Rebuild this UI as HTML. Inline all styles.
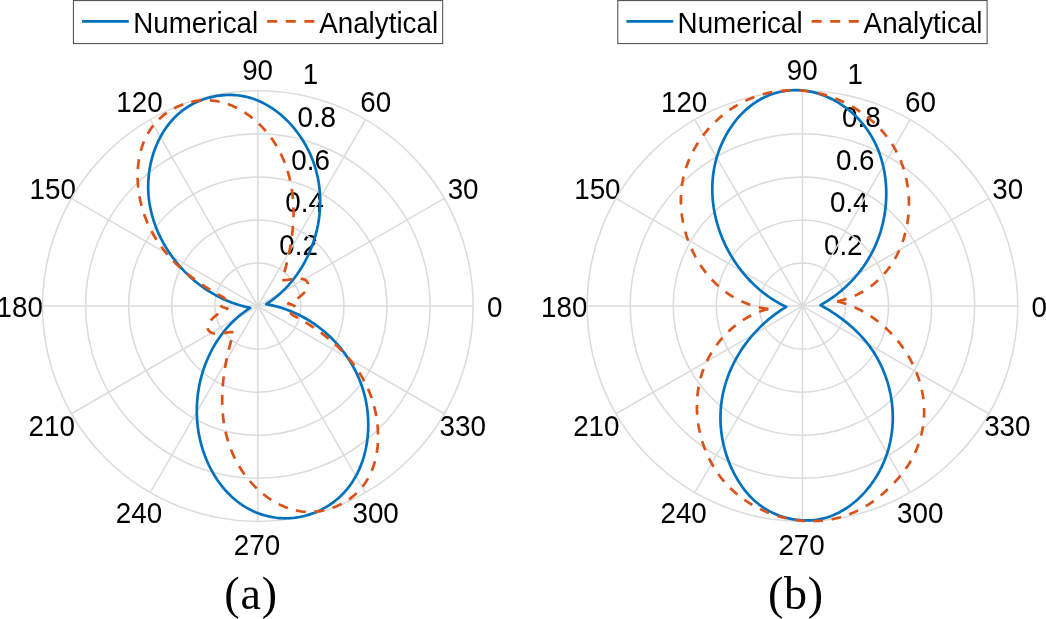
<!DOCTYPE html>
<html lang="en"><head><meta charset="utf-8"><title>Polar plots</title>
<style>html,body{margin:0;padding:0;background:#fff}body{width:1046px;height:619px;overflow:hidden}svg{display:block}</style></head>
<body>
<svg width="1046" height="619" viewBox="0 0 1046 619">
<rect width="1046" height="619" fill="#fff"/>
<g font-family="&quot;Liberation Sans&quot;, sans-serif" font-size="27.78" fill="#000"><text transform="translate(257.60 80.00) scale(1 1.06)" text-anchor="middle">90</text><text transform="translate(139.50 111.70) scale(1 1.06)" text-anchor="middle">120</text><text transform="translate(375.80 112.20) scale(1 1.06)" text-anchor="middle">60</text><text transform="translate(52.75 198.80) scale(1 1.06)" text-anchor="middle">150</text><text transform="translate(463.10 198.80) scale(1 1.06)" text-anchor="middle">30</text><text transform="translate(19.65 317.30) scale(1 1.06)" text-anchor="middle">180</text><text transform="translate(494.65 317.30) scale(1 1.06)" text-anchor="middle">0</text><text transform="translate(51.70 436.00) scale(1 1.06)" text-anchor="middle">210</text><text transform="translate(462.70 436.00) scale(1 1.06)" text-anchor="middle">330</text><text transform="translate(139.00 522.50) scale(1 1.06)" text-anchor="middle">240</text><text transform="translate(375.60 522.50) scale(1 1.06)" text-anchor="middle">300</text><text transform="translate(256.95 554.70) scale(1 1.06)" text-anchor="middle">270</text><text transform="translate(310.55 83.90) scale(1 1.06)" text-anchor="middle">1</text><text transform="translate(316.75 126.90) scale(1 1.06)" text-anchor="middle">0.8</text><text transform="translate(310.65 169.50) scale(1 1.06)" text-anchor="middle">0.6</text><text transform="translate(304.65 211.90) scale(1 1.06)" text-anchor="middle">0.4</text><text transform="translate(298.65 254.60) scale(1 1.06)" text-anchor="middle">0.2</text></g>
<g fill="none" stroke="#dbdbdb" stroke-width="1.5"><circle cx="257.85" cy="306.10" r="43.06"/><circle cx="257.85" cy="306.10" r="86.12"/><circle cx="257.85" cy="306.10" r="129.18"/><circle cx="257.85" cy="306.10" r="172.24"/><circle cx="257.85" cy="306.10" r="215.30"/><line x1="257.85" y1="306.10" x2="473.15" y2="306.10"/><line x1="257.85" y1="306.10" x2="444.31" y2="198.45"/><line x1="257.85" y1="306.10" x2="365.50" y2="119.64"/><line x1="257.85" y1="306.10" x2="257.85" y2="90.80"/><line x1="257.85" y1="306.10" x2="150.20" y2="119.64"/><line x1="257.85" y1="306.10" x2="71.39" y2="198.45"/><line x1="257.85" y1="306.10" x2="42.55" y2="306.10"/><line x1="257.85" y1="306.10" x2="71.39" y2="413.75"/><line x1="257.85" y1="306.10" x2="150.20" y2="492.56"/><line x1="257.85" y1="306.10" x2="257.85" y2="521.40"/><line x1="257.85" y1="306.10" x2="365.50" y2="492.56"/><line x1="257.85" y1="306.10" x2="444.31" y2="413.75"/></g>
<path d="M266.15 304.20 L268.19 302.86 L270.20 301.48 L272.17 300.05 L274.11 298.57 L276.02 297.05 L277.89 295.49 L279.73 293.89 L281.53 292.24 L283.30 290.56 L285.03 288.84 L286.72 287.08 L288.37 285.29 L289.98 283.46 L291.56 281.60 L293.10 279.70 L294.59 277.78 L296.05 275.82 L297.47 273.83 L298.84 271.82 L300.18 269.78 L301.47 267.71 L302.73 265.62 L303.94 263.50 L305.11 261.37 L306.24 259.20 L307.33 257.02 L308.37 254.82 L309.37 252.59 L310.33 250.35 L311.25 248.09 L312.12 245.81 L312.95 243.52 L313.74 241.21 L314.48 238.89 L315.18 236.55 L315.83 234.20 L316.44 231.84 L317.00 229.46 L317.52 227.08 L318.00 224.69 L318.42 222.29 L318.80 219.88 L319.14 217.46 L319.43 215.04 L319.67 212.61 L319.87 210.18 L320.01 207.75 L320.11 205.31 L320.16 202.87 L320.17 200.43 L320.12 197.99 L320.03 195.56 L319.88 193.12 L319.69 190.69 L319.45 188.26 L319.15 185.84 L318.81 183.43 L318.42 181.02 L317.97 178.62 L317.48 176.23 L316.93 173.86 L316.34 171.49 L315.69 169.14 L314.99 166.80 L314.24 164.48 L313.44 162.18 L312.59 159.89 L311.69 157.63 L310.74 155.38 L309.74 153.15 L308.70 150.95 L307.60 148.77 L306.47 146.61 L305.28 144.48 L304.05 142.37 L302.78 140.29 L301.46 138.24 L300.11 136.21 L298.70 134.22 L297.26 132.25 L295.77 130.32 L294.24 128.42 L292.67 126.55 L291.06 124.72 L289.41 122.92 L287.72 121.17 L285.99 119.45 L284.22 117.77 L282.41 116.14 L280.56 114.55 L278.67 113.01 L276.74 111.51 L274.78 110.07 L272.77 108.67 L270.74 107.33 L268.66 106.05 L266.55 104.82 L264.41 103.66 L262.23 102.56 L260.03 101.52 L257.79 100.56 L255.52 99.66 L253.22 98.83 L250.90 98.08 L248.56 97.41 L246.19 96.81 L243.81 96.30 L241.41 95.87 L238.99 95.52 L236.57 95.26 L234.14 95.07 L231.70 94.96 L229.26 94.93 L226.82 94.98 L224.39 95.10 L221.96 95.30 L219.53 95.58 L217.12 95.93 L214.72 96.35 L212.33 96.84 L209.96 97.41 L207.60 98.05 L205.27 98.76 L202.96 99.54 L200.68 100.40 L198.42 101.32 L196.19 102.31 L194.00 103.37 L191.84 104.51 L189.71 105.71 L187.63 106.98 L185.59 108.32 L183.60 109.72 L181.65 111.20 L179.76 112.73 L177.92 114.33 L176.13 115.99 L174.40 117.71 L172.73 119.48 L171.10 121.30 L169.54 123.18 L168.03 125.09 L166.58 127.05 L165.18 129.05 L163.84 131.09 L162.56 133.16 L161.33 135.27 L160.16 137.41 L159.05 139.58 L157.99 141.78 L156.98 144.00 L156.03 146.25 L155.14 148.52 L154.30 150.81 L153.51 153.11 L152.78 155.44 L152.10 157.78 L151.48 160.14 L150.91 162.51 L150.39 164.90 L149.93 167.29 L149.52 169.70 L149.17 172.11 L148.87 174.53 L148.62 176.96 L148.43 179.39 L148.29 181.82 L148.21 184.26 L148.19 186.70 L148.22 189.14 L148.30 191.58 L148.44 194.01 L148.64 196.44 L148.90 198.87 L149.20 201.29 L149.56 203.70 L149.98 206.10 L150.45 208.50 L150.96 210.88 L151.53 213.25 L152.15 215.61 L152.82 217.96 L153.54 220.29 L154.30 222.60 L155.11 224.90 L155.97 227.19 L156.87 229.45 L157.82 231.70 L158.81 233.93 L159.84 236.14 L160.91 238.33 L162.03 240.50 L163.18 242.65 L164.38 244.77 L165.62 246.88 L166.89 248.96 L168.20 251.01 L169.55 253.04 L170.94 255.05 L172.36 257.03 L173.82 258.99 L175.31 260.92 L176.83 262.82 L178.39 264.70 L179.99 266.54 L181.61 268.36 L183.27 270.15 L184.96 271.90 L186.69 273.63 L188.44 275.33 L190.23 276.99 L192.04 278.62 L193.88 280.22 L195.76 281.78 L197.66 283.31 L199.59 284.80 L201.54 286.25 L203.53 287.67 L205.54 289.05 L207.57 290.40 L209.64 291.70 L211.72 292.97 L213.83 294.19 L215.96 295.37 L218.12 296.52 L220.30 297.62 L222.49 298.67 L224.71 299.69 L226.95 300.66 L229.21 301.58 L231.48 302.46 L233.77 303.29 L236.08 304.08 L238.41 304.82 L240.74 305.52 L243.10 306.16 L245.46 306.76 L247.84 307.31 L250.22 307.81 L248.17 309.15 L246.15 310.55 L244.17 311.99 L242.21 313.47 L240.30 315.00 L238.41 316.58 L236.57 318.19 L234.76 319.85 L232.98 321.55 L231.25 323.28 L229.56 325.06 L227.90 326.87 L226.29 328.72 L224.71 330.60 L223.18 332.51 L221.68 334.46 L220.23 336.44 L218.82 338.45 L217.46 340.49 L216.13 342.55 L214.85 344.64 L213.61 346.76 L212.42 348.90 L211.26 351.07 L210.15 353.26 L209.09 355.47 L208.07 357.70 L207.09 359.95 L206.15 362.22 L205.26 364.51 L204.42 366.81 L203.62 369.13 L202.86 371.46 L202.15 373.81 L201.48 376.17 L200.85 378.54 L200.27 380.93 L199.74 383.32 L199.25 385.73 L198.80 388.14 L198.40 390.56 L198.04 392.99 L197.73 395.42 L197.47 397.86 L197.25 400.31 L197.07 402.75 L196.94 405.20 L196.86 407.66 L196.82 410.11 L196.83 412.56 L196.88 415.02 L196.98 417.47 L197.13 419.92 L197.32 422.36 L197.56 424.81 L197.84 427.24 L198.17 429.68 L198.55 432.10 L198.97 434.52 L199.44 436.93 L199.96 439.32 L200.52 441.71 L201.13 444.09 L201.79 446.45 L202.50 448.80 L203.25 451.14 L204.04 453.46 L204.89 455.76 L205.78 458.05 L206.71 460.32 L207.69 462.57 L208.72 464.80 L209.80 467.00 L210.91 469.19 L212.08 471.35 L213.29 473.48 L214.55 475.59 L215.86 477.66 L217.21 479.71 L218.61 481.73 L220.05 483.71 L221.54 485.66 L223.08 487.57 L224.66 489.44 L226.30 491.28 L227.98 493.07 L229.70 494.81 L231.47 496.51 L233.29 498.16 L235.15 499.76 L237.06 501.30 L239.01 502.79 L241.00 504.22 L243.04 505.58 L245.12 506.89 L247.24 508.13 L249.39 509.30 L251.59 510.40 L253.81 511.44 L256.07 512.40 L258.35 513.29 L260.66 514.12 L263.00 514.87 L265.36 515.55 L267.73 516.16 L270.13 516.69 L272.54 517.15 L274.96 517.53 L277.40 517.83 L279.84 518.06 L282.29 518.21 L284.74 518.28 L287.20 518.27 L289.65 518.18 L292.10 518.01 L294.54 517.76 L296.97 517.43 L299.39 517.02 L301.80 516.54 L304.19 515.98 L306.56 515.35 L308.91 514.65 L311.24 513.88 L313.54 513.05 L315.82 512.14 L318.08 511.16 L320.30 510.12 L322.49 509.02 L324.65 507.85 L326.77 506.62 L328.85 505.32 L330.90 503.97 L332.90 502.55 L334.86 501.07 L336.77 499.53 L338.63 497.93 L340.44 496.27 L342.19 494.55 L343.89 492.78 L345.53 490.96 L347.12 489.09 L348.64 487.17 L350.11 485.20 L351.52 483.19 L352.87 481.14 L354.16 479.06 L355.39 476.93 L356.57 474.78 L357.68 472.59 L358.73 470.38 L359.73 468.13 L360.67 465.87 L361.55 463.58 L362.38 461.27 L363.15 458.94 L363.86 456.59 L364.52 454.22 L365.12 451.85 L365.67 449.45 L366.16 447.05 L366.60 444.64 L366.99 442.21 L367.33 439.78 L367.61 437.35 L367.84 434.90 L368.03 432.46 L368.16 430.01 L368.24 427.55 L368.27 425.10 L368.25 422.65 L368.18 420.19 L368.06 417.74 L367.89 415.30 L367.67 412.85 L367.41 410.41 L367.09 407.98 L366.72 405.55 L366.31 403.13 L365.84 400.73 L365.33 398.33 L364.76 395.94 L364.15 393.56 L363.49 391.20 L362.77 388.85 L362.01 386.52 L361.20 384.20 L360.34 381.91 L359.43 379.63 L358.48 377.36 L357.48 375.12 L356.44 372.90 L355.35 370.70 L354.22 368.53 L353.04 366.37 L351.82 364.24 L350.56 362.14 L349.26 360.06 L347.92 358.00 L346.53 355.98 L345.11 353.98 L343.65 352.01 L342.15 350.06 L340.62 348.15 L339.04 346.27 L337.44 344.41 L335.79 342.59 L334.11 340.80 L332.40 339.05 L330.65 337.32 L328.87 335.63 L327.06 333.98 L325.22 332.36 L323.35 330.77 L321.44 329.22 L319.51 327.71 L317.55 326.24 L315.56 324.80 L313.54 323.41 L311.50 322.05 L309.43 320.73 L307.33 319.46 L305.21 318.22 L303.06 317.03 L300.90 315.88 L298.71 314.77 L296.50 313.71 L294.26 312.69 L292.01 311.72 L289.74 310.79 L287.45 309.92 L285.14 309.08 L282.81 308.30 L280.47 307.56 L278.12 306.88 L275.75 306.24 L273.36 305.65 L270.97 305.12 L268.56 304.63 L266.15 304.20Z" fill="none" stroke="#0072BD" stroke-width="2.7" stroke-linejoin="round" stroke-linecap="butt"/>
<path d="M298.10 317.96 L297.79 317.76 L297.15 317.45 L296.28 317.04 L295.25 316.55 L294.17 316.00 L293.11 315.39 L292.17 314.74 L291.42 314.07 L290.97 313.39 L290.88 312.72 L291.23 312.07 L291.90 311.51 L292.79 311.09 L293.77 310.79 L294.72 310.51 L295.52 310.11 L296.05 309.52 L296.25 308.78 L296.07 307.98 L295.59 307.19 L294.93 306.45 L294.17 305.84 L293.38 305.36 L292.54 304.97 L291.69 304.66 L290.82 304.40 L289.94 304.17 L289.07 303.96 L288.22 303.72 L289.09 303.25 L289.97 302.77 L290.83 302.29 L291.69 301.82 L292.54 301.34 L293.38 300.86 L294.21 300.37 L295.04 299.88 L295.85 299.38 L296.66 298.86 L297.46 298.33 L298.25 297.79 L299.03 297.23 L299.80 296.64 L300.56 296.04 L301.32 295.41 L302.06 294.75 L302.80 294.07 L303.52 293.35 L304.24 292.61 L304.94 291.83 L305.61 291.02 L306.23 290.18 L306.80 289.33 L307.29 288.46 L307.69 287.57 L307.98 286.68 L308.15 285.77 L308.19 284.87 L308.08 283.97 L307.82 283.09 L307.41 282.24 L306.88 281.46 L306.23 280.76 L305.47 280.17 L304.62 279.67 L303.69 279.27 L302.72 278.96 L301.72 278.73 L300.70 278.59 L299.68 278.52 L298.66 278.51 L297.65 278.55 L296.66 278.62 L295.67 278.72 L294.70 278.84 L293.75 278.96 L292.80 279.10 L291.86 279.24 L290.92 279.38 L289.98 279.52 L289.04 279.65 L288.09 279.78 L287.14 279.89 L286.17 279.99 L285.18 280.07 L284.18 280.13 L283.16 280.17 L282.11 280.17 L282.69 278.20 L283.26 276.23 L283.82 274.26 L284.36 272.28 L284.90 270.30 L285.43 268.32 L285.95 266.33 L286.45 264.34 L286.94 262.35 L287.42 260.35 L287.88 258.35 L288.33 256.35 L288.76 254.35 L289.18 252.34 L289.59 250.32 L289.97 248.31 L290.34 246.29 L290.69 244.27 L291.02 242.24 L291.34 240.21 L291.63 238.18 L291.90 236.15 L292.16 234.11 L292.39 232.07 L292.61 230.03 L292.80 227.99 L292.97 225.94 L293.12 223.90 L293.25 221.85 L293.35 219.80 L293.43 217.75 L293.48 215.70 L293.51 213.65 L293.52 211.59 L293.49 209.54 L293.45 207.49 L293.37 205.44 L293.27 203.39 L293.14 201.34 L292.99 199.29 L292.80 197.25 L292.59 195.21 L292.35 193.17 L292.07 191.14 L291.77 189.11 L291.44 187.08 L291.07 185.06 L290.68 183.05 L290.25 181.04 L289.79 179.04 L289.30 177.05 L288.78 175.06 L288.23 173.09 L287.64 171.12 L287.02 169.16 L286.37 167.22 L285.69 165.28 L284.97 163.36 L284.21 161.45 L283.43 159.56 L282.61 157.67 L281.76 155.81 L280.87 153.96 L279.95 152.12 L279.00 150.31 L278.01 148.51 L276.99 146.73 L275.93 144.97 L274.85 143.23 L273.73 141.51 L272.57 139.81 L271.39 138.14 L270.17 136.48 L268.92 134.86 L267.64 133.25 L266.33 131.67 L264.99 130.12 L263.62 128.59 L262.21 127.09 L260.78 125.62 L259.32 124.18 L257.84 122.77 L256.32 121.39 L254.77 120.04 L253.20 118.72 L251.60 117.43 L249.97 116.18 L248.32 114.97 L246.64 113.79 L244.93 112.65 L243.20 111.55 L241.44 110.49 L239.66 109.47 L237.86 108.50 L236.03 107.57 L234.17 106.69 L232.30 105.85 L230.40 105.07 L228.48 104.34 L226.54 103.66 L224.59 103.05 L222.61 102.48 L220.62 101.98 L218.62 101.54 L216.60 101.17 L214.57 100.85 L212.54 100.61 L210.49 100.43 L208.44 100.33 L206.39 100.29 L204.34 100.31 L202.29 100.40 L200.24 100.56 L198.20 100.78 L196.17 101.06 L194.15 101.40 L192.13 101.81 L190.13 102.27 L188.15 102.79 L186.18 103.37 L184.23 104.00 L182.30 104.69 L180.39 105.44 L178.50 106.24 L176.63 107.10 L174.79 108.01 L172.98 108.97 L171.20 109.99 L169.44 111.05 L167.72 112.17 L166.04 113.35 L164.39 114.57 L162.79 115.85 L161.22 117.17 L159.70 118.55 L158.22 119.97 L156.79 121.44 L155.41 122.96 L154.07 124.52 L152.79 126.12 L151.56 127.76 L150.39 129.44 L149.27 131.16 L148.20 132.92 L147.19 134.70 L146.24 136.52 L145.34 138.36 L144.49 140.24 L143.70 142.13 L142.96 144.04 L142.28 145.98 L141.64 147.93 L141.06 149.90 L140.53 151.88 L140.04 153.87 L139.60 155.88 L139.21 157.89 L138.86 159.91 L138.56 161.94 L138.31 163.98 L138.09 166.02 L137.92 168.06 L137.79 170.11 L137.70 172.16 L137.64 174.21 L137.63 176.27 L137.66 178.32 L137.72 180.37 L137.82 182.42 L137.96 184.47 L138.14 186.51 L138.35 188.55 L138.59 190.59 L138.87 192.62 L139.19 194.65 L139.53 196.67 L139.92 198.69 L140.34 200.70 L140.79 202.70 L141.27 204.69 L141.79 206.68 L142.35 208.65 L142.94 210.62 L143.56 212.57 L144.21 214.52 L144.90 216.45 L145.63 218.37 L146.38 220.28 L147.17 222.17 L148.00 224.05 L148.86 225.92 L149.74 227.77 L150.67 229.60 L151.62 231.42 L152.60 233.22 L153.61 235.00 L154.66 236.77 L155.73 238.52 L156.83 240.25 L157.96 241.97 L159.11 243.66 L160.29 245.34 L161.50 247.00 L162.73 248.64 L163.99 250.26 L165.28 251.86 L166.58 253.44 L167.91 255.01 L169.27 256.55 L170.64 258.07 L172.04 259.57 L173.45 261.06 L174.89 262.52 L176.35 263.97 L177.83 265.39 L179.32 266.80 L180.84 268.18 L182.37 269.55 L183.91 270.90 L185.48 272.23 L187.06 273.54 L188.65 274.83 L190.26 276.10 L191.88 277.36 L193.52 278.60 L195.17 279.82 L196.83 281.02 L198.50 282.21 L200.19 283.38 L201.89 284.54 L203.59 285.68 L205.31 286.80 L207.04 287.91 L208.78 289.00 L210.52 290.07 L212.28 291.14 L214.04 292.18 L215.82 293.22 L217.60 294.24 L217.91 294.44 L218.55 294.75 L219.42 295.16 L220.45 295.65 L221.53 296.20 L222.59 296.81 L223.53 297.46 L224.28 298.13 L224.73 298.81 L224.82 299.48 L224.47 300.13 L223.80 300.69 L222.91 301.11 L221.93 301.41 L220.98 301.69 L220.18 302.09 L219.65 302.68 L219.45 303.42 L219.63 304.22 L220.11 305.01 L220.77 305.75 L221.53 306.36 L222.32 306.84 L223.16 307.23 L224.01 307.54 L224.88 307.80 L225.76 308.03 L226.63 308.24 L227.48 308.48 L226.61 308.95 L225.73 309.43 L224.87 309.91 L224.01 310.38 L223.16 310.86 L222.32 311.34 L221.49 311.83 L220.66 312.32 L219.85 312.82 L219.04 313.34 L218.24 313.87 L217.45 314.41 L216.67 314.97 L215.90 315.56 L215.14 316.16 L214.38 316.79 L213.64 317.45 L212.90 318.13 L212.18 318.85 L211.46 319.59 L210.76 320.37 L210.09 321.18 L209.47 322.02 L208.90 322.87 L208.41 323.74 L208.01 324.63 L207.72 325.52 L207.55 326.43 L207.51 327.33 L207.62 328.23 L207.88 329.11 L208.29 329.96 L208.82 330.74 L209.47 331.44 L210.23 332.03 L211.08 332.53 L212.01 332.93 L212.98 333.24 L213.98 333.47 L215.00 333.61 L216.02 333.68 L217.04 333.69 L218.05 333.65 L219.04 333.58 L220.03 333.48 L221.00 333.36 L221.95 333.24 L222.90 333.10 L223.84 332.96 L224.78 332.82 L225.72 332.68 L226.66 332.55 L227.61 332.42 L228.56 332.31 L229.53 332.21 L230.52 332.13 L231.52 332.07 L232.54 332.03 L233.59 332.03 L233.01 334.00 L232.44 335.97 L231.88 337.94 L231.34 339.92 L230.80 341.90 L230.27 343.88 L229.75 345.87 L229.25 347.86 L228.76 349.85 L228.28 351.85 L227.82 353.85 L227.37 355.85 L226.94 357.85 L226.52 359.86 L226.11 361.88 L225.73 363.89 L225.36 365.91 L225.01 367.93 L224.68 369.96 L224.36 371.99 L224.07 374.02 L223.80 376.05 L223.54 378.09 L223.31 380.13 L223.09 382.17 L222.90 384.21 L222.73 386.26 L222.58 388.30 L222.45 390.35 L222.35 392.40 L222.27 394.45 L222.22 396.50 L222.19 398.55 L222.18 400.61 L222.21 402.66 L222.25 404.71 L222.33 406.76 L222.43 408.81 L222.56 410.86 L222.71 412.91 L222.90 414.95 L223.11 416.99 L223.35 419.03 L223.63 421.06 L223.93 423.09 L224.26 425.12 L224.63 427.14 L225.02 429.15 L225.45 431.16 L225.91 433.16 L226.40 435.15 L226.92 437.14 L227.47 439.11 L228.06 441.08 L228.68 443.04 L229.33 444.98 L230.01 446.92 L230.73 448.84 L231.49 450.75 L232.27 452.64 L233.09 454.53 L233.94 456.39 L234.83 458.24 L235.75 460.08 L236.70 461.89 L237.69 463.69 L238.71 465.47 L239.77 467.23 L240.85 468.97 L241.97 470.69 L243.13 472.39 L244.31 474.06 L245.53 475.72 L246.78 477.34 L248.06 478.95 L249.37 480.53 L250.71 482.08 L252.08 483.61 L253.49 485.11 L254.92 486.58 L256.38 488.02 L257.86 489.43 L259.38 490.81 L260.93 492.16 L262.50 493.48 L264.10 494.77 L265.73 496.02 L267.38 497.23 L269.06 498.41 L270.77 499.55 L272.50 500.65 L274.26 501.71 L276.04 502.73 L277.84 503.70 L279.67 504.63 L281.53 505.51 L283.40 506.35 L285.30 507.13 L287.22 507.86 L289.16 508.54 L291.11 509.15 L293.09 509.72 L295.08 510.22 L297.08 510.66 L299.10 511.03 L301.13 511.35 L303.16 511.59 L305.21 511.77 L307.26 511.87 L309.31 511.91 L311.36 511.89 L313.41 511.80 L315.46 511.64 L317.50 511.42 L319.53 511.14 L321.55 510.80 L323.57 510.39 L325.57 509.93 L327.55 509.41 L329.52 508.83 L331.47 508.20 L333.40 507.51 L335.31 506.76 L337.20 505.96 L339.07 505.10 L340.91 504.19 L342.72 503.23 L344.50 502.21 L346.26 501.15 L347.98 500.03 L349.66 498.85 L351.31 497.63 L352.91 496.35 L354.48 495.03 L356.00 493.65 L357.48 492.23 L358.91 490.76 L360.29 489.24 L361.63 487.68 L362.91 486.08 L364.14 484.44 L365.31 482.76 L366.43 481.04 L367.50 479.28 L368.51 477.50 L369.46 475.68 L370.36 473.84 L371.21 471.96 L372.00 470.07 L372.74 468.16 L373.42 466.22 L374.06 464.27 L374.64 462.30 L375.17 460.32 L375.66 458.33 L376.10 456.32 L376.49 454.31 L376.84 452.29 L377.14 450.26 L377.39 448.22 L377.61 446.18 L377.78 444.14 L377.91 442.09 L378.00 440.04 L378.06 437.99 L378.07 435.93 L378.04 433.88 L377.98 431.83 L377.88 429.78 L377.74 427.73 L377.56 425.69 L377.35 423.65 L377.11 421.61 L376.83 419.58 L376.51 417.55 L376.17 415.53 L375.78 413.51 L375.36 411.50 L374.91 409.50 L374.43 407.51 L373.91 405.52 L373.35 403.55 L372.76 401.58 L372.14 399.63 L371.49 397.68 L370.80 395.75 L370.07 393.83 L369.32 391.92 L368.53 390.03 L367.70 388.15 L366.84 386.28 L365.96 384.43 L365.03 382.60 L364.08 380.78 L363.10 378.98 L362.09 377.20 L361.04 375.43 L359.97 373.68 L358.87 371.95 L357.74 370.23 L356.59 368.54 L355.41 366.86 L354.20 365.20 L352.97 363.56 L351.71 361.94 L350.42 360.34 L349.12 358.76 L347.79 357.19 L346.43 355.65 L345.06 354.13 L343.66 352.63 L342.25 351.14 L340.81 349.68 L339.35 348.23 L337.87 346.81 L336.38 345.40 L334.86 344.02 L333.33 342.65 L331.79 341.30 L330.22 339.97 L328.64 338.66 L327.05 337.37 L325.44 336.10 L323.82 334.84 L322.18 333.60 L320.53 332.38 L318.87 331.18 L317.20 329.99 L315.51 328.82 L313.81 327.66 L312.11 326.52 L310.39 325.40 L308.66 324.29 L306.92 323.20 L305.18 322.13 L303.42 321.06 L301.66 320.02 L299.88 318.98 L298.10 317.96Z" fill="none" stroke="#D95319" stroke-width="2.7" stroke-linejoin="round" stroke-dasharray="9.968 8.572" stroke-dashoffset="0.00"/>
<text x="224.30" y="608.6" font-family="&quot;Liberation Serif&quot;, serif" font-size="46" letter-spacing="0.8" fill="#000">(a)</text>
<g font-family="&quot;Liberation Sans&quot;, sans-serif" font-size="27.78" fill="#000"><text transform="translate(802.20 80.00) scale(1 1.06)" text-anchor="middle">90</text><text transform="translate(684.10 111.70) scale(1 1.06)" text-anchor="middle">120</text><text transform="translate(920.40 112.20) scale(1 1.06)" text-anchor="middle">60</text><text transform="translate(597.35 198.80) scale(1 1.06)" text-anchor="middle">150</text><text transform="translate(1007.70 198.80) scale(1 1.06)" text-anchor="middle">30</text><text transform="translate(564.25 317.30) scale(1 1.06)" text-anchor="middle">180</text><text transform="translate(1039.25 317.30) scale(1 1.06)" text-anchor="middle">0</text><text transform="translate(596.30 436.00) scale(1 1.06)" text-anchor="middle">210</text><text transform="translate(1007.30 436.00) scale(1 1.06)" text-anchor="middle">330</text><text transform="translate(683.60 522.50) scale(1 1.06)" text-anchor="middle">240</text><text transform="translate(920.20 522.50) scale(1 1.06)" text-anchor="middle">300</text><text transform="translate(801.55 554.70) scale(1 1.06)" text-anchor="middle">270</text><text transform="translate(855.15 83.90) scale(1 1.06)" text-anchor="middle">1</text><text transform="translate(861.35 126.90) scale(1 1.06)" text-anchor="middle">0.8</text><text transform="translate(855.25 169.50) scale(1 1.06)" text-anchor="middle">0.6</text><text transform="translate(849.25 211.90) scale(1 1.06)" text-anchor="middle">0.4</text><text transform="translate(843.25 254.60) scale(1 1.06)" text-anchor="middle">0.2</text></g>
<g fill="none" stroke="#dbdbdb" stroke-width="1.5"><circle cx="802.45" cy="306.10" r="43.06"/><circle cx="802.45" cy="306.10" r="86.12"/><circle cx="802.45" cy="306.10" r="129.18"/><circle cx="802.45" cy="306.10" r="172.24"/><circle cx="802.45" cy="306.10" r="215.30"/><line x1="802.45" y1="306.10" x2="1017.75" y2="306.10"/><line x1="802.45" y1="306.10" x2="988.91" y2="198.45"/><line x1="802.45" y1="306.10" x2="910.10" y2="119.64"/><line x1="802.45" y1="306.10" x2="802.45" y2="90.80"/><line x1="802.45" y1="306.10" x2="694.80" y2="119.64"/><line x1="802.45" y1="306.10" x2="615.99" y2="198.45"/><line x1="802.45" y1="306.10" x2="587.15" y2="306.10"/><line x1="802.45" y1="306.10" x2="615.99" y2="413.75"/><line x1="802.45" y1="306.10" x2="694.80" y2="492.56"/><line x1="802.45" y1="306.10" x2="802.45" y2="521.40"/><line x1="802.45" y1="306.10" x2="910.10" y2="492.56"/><line x1="802.45" y1="306.10" x2="988.91" y2="413.75"/></g>
<path d="M820.47 305.11 L822.57 303.91 L824.64 302.67 L826.70 301.40 L828.73 300.08 L830.74 298.74 L832.73 297.35 L834.69 295.93 L836.62 294.48 L838.52 292.98 L840.40 291.46 L842.25 289.90 L844.07 288.30 L845.86 286.68 L847.62 285.01 L849.35 283.32 L851.04 281.59 L852.71 279.84 L854.34 278.05 L855.93 276.23 L857.49 274.38 L859.02 272.50 L860.50 270.59 L861.95 268.65 L863.37 266.69 L864.74 264.70 L866.08 262.68 L867.37 260.64 L868.63 258.57 L869.85 256.48 L871.02 254.36 L872.16 252.23 L873.25 250.07 L874.30 247.89 L875.30 245.68 L876.26 243.46 L877.18 241.23 L878.06 238.97 L878.89 236.70 L879.68 234.41 L880.42 232.11 L881.11 229.79 L881.77 227.46 L882.38 225.12 L882.94 222.76 L883.46 220.40 L883.94 218.03 L884.37 215.65 L884.76 213.26 L885.10 210.86 L885.40 208.46 L885.66 206.06 L885.87 203.65 L886.03 201.23 L886.15 198.82 L886.23 196.40 L886.26 193.98 L886.24 191.56 L886.18 189.14 L886.07 186.72 L885.92 184.31 L885.72 181.90 L885.47 179.49 L885.17 177.09 L884.83 174.69 L884.44 172.30 L884.00 169.93 L883.51 167.56 L882.97 165.20 L882.38 162.85 L881.74 160.52 L881.05 158.20 L880.32 155.89 L879.53 153.60 L878.68 151.34 L877.79 149.09 L876.85 146.86 L875.85 144.65 L874.80 142.47 L873.70 140.32 L872.55 138.19 L871.34 136.09 L870.09 134.02 L868.78 131.99 L867.42 129.99 L866.01 128.02 L864.55 126.09 L863.04 124.20 L861.48 122.35 L859.88 120.53 L858.24 118.76 L856.55 117.03 L854.82 115.34 L853.04 113.69 L851.23 112.09 L849.38 110.53 L847.49 109.01 L845.57 107.55 L843.61 106.13 L841.61 104.76 L839.58 103.44 L837.52 102.18 L835.43 100.97 L833.30 99.81 L831.15 98.71 L828.96 97.66 L826.75 96.68 L824.52 95.76 L822.26 94.89 L819.97 94.10 L817.66 93.37 L815.34 92.71 L812.99 92.12 L810.63 91.60 L808.25 91.15 L805.86 90.78 L803.46 90.49 L801.04 90.28 L798.63 90.15 L796.21 90.10 L793.79 90.13 L791.37 90.25 L788.96 90.44 L786.56 90.71 L784.16 91.07 L781.78 91.50 L779.42 92.01 L777.07 92.59 L774.74 93.25 L772.44 93.99 L770.16 94.81 L767.91 95.69 L765.69 96.66 L763.50 97.69 L761.35 98.80 L759.24 99.98 L757.17 101.23 L755.14 102.55 L753.15 103.93 L751.20 105.36 L749.30 106.86 L747.44 108.41 L745.63 110.01 L743.87 111.67 L742.15 113.37 L740.47 115.12 L738.84 116.91 L737.26 118.74 L735.73 120.61 L734.24 122.52 L732.80 124.47 L731.41 126.44 L730.06 128.46 L728.77 130.50 L727.51 132.57 L726.31 134.67 L725.15 136.79 L724.04 138.94 L722.98 141.12 L721.97 143.31 L721.00 145.53 L720.09 147.77 L719.22 150.03 L718.40 152.31 L717.63 154.60 L716.91 156.91 L716.25 159.24 L715.63 161.58 L715.07 163.93 L714.56 166.30 L714.10 168.67 L713.70 171.06 L713.34 173.45 L713.04 175.85 L712.79 178.26 L712.59 180.67 L712.44 183.09 L712.34 185.50 L712.29 187.92 L712.29 190.34 L712.34 192.76 L712.44 195.18 L712.58 197.60 L712.78 200.01 L713.02 202.41 L713.31 204.82 L713.64 207.21 L714.03 209.60 L714.45 211.98 L714.92 214.36 L715.44 216.72 L716.00 219.08 L716.60 221.42 L717.25 223.75 L717.94 226.07 L718.67 228.38 L719.44 230.67 L720.25 232.95 L721.11 235.21 L722.00 237.46 L722.93 239.69 L723.91 241.91 L724.92 244.11 L725.97 246.29 L727.06 248.45 L728.18 250.59 L729.34 252.71 L730.54 254.82 L731.78 256.90 L733.05 258.95 L734.36 260.99 L735.70 263.00 L737.08 264.99 L738.49 266.96 L739.94 268.89 L741.42 270.81 L742.94 272.69 L744.49 274.55 L746.07 276.38 L747.69 278.18 L749.34 279.96 L751.02 281.70 L752.73 283.41 L754.47 285.09 L756.24 286.73 L758.05 288.34 L759.88 289.92 L761.75 291.46 L763.64 292.97 L765.57 294.43 L767.52 295.86 L769.50 297.25 L771.51 298.60 L773.54 299.91 L775.60 301.18 L777.69 302.41 L779.80 303.59 L781.94 304.73 L784.10 305.82 L786.28 306.86 L784.23 308.11 L782.21 309.39 L780.21 310.71 L778.23 312.06 L776.27 313.44 L774.34 314.86 L772.44 316.32 L770.56 317.80 L768.70 319.32 L766.88 320.87 L765.07 322.45 L763.30 324.06 L761.55 325.71 L759.84 327.38 L758.15 329.08 L756.49 330.81 L754.86 332.56 L753.26 334.35 L751.69 336.16 L750.15 338.00 L748.65 339.86 L747.17 341.75 L745.73 343.67 L744.33 345.61 L742.96 347.58 L741.62 349.56 L740.31 351.57 L739.05 353.61 L737.82 355.67 L736.62 357.74 L735.47 359.84 L734.35 361.96 L733.27 364.10 L732.23 366.26 L731.22 368.44 L730.26 370.63 L729.34 372.85 L728.47 375.08 L727.63 377.32 L726.84 379.58 L726.09 381.86 L725.38 384.15 L724.72 386.45 L724.11 388.77 L723.54 391.10 L723.02 393.44 L722.54 395.79 L722.11 398.14 L721.73 400.51 L721.40 402.88 L721.12 405.26 L720.88 407.65 L720.70 410.04 L720.56 412.43 L720.48 414.83 L720.45 417.22 L720.46 419.62 L720.53 422.01 L720.64 424.41 L720.81 426.80 L721.02 429.19 L721.27 431.57 L721.58 433.95 L721.93 436.32 L722.33 438.68 L722.77 441.04 L723.26 443.38 L723.80 445.72 L724.38 448.04 L725.00 450.36 L725.67 452.66 L726.39 454.95 L727.15 457.22 L727.95 459.48 L728.80 461.72 L729.69 463.94 L730.62 466.15 L731.60 468.34 L732.62 470.50 L733.69 472.65 L734.80 474.78 L735.95 476.88 L737.14 478.96 L738.38 481.01 L739.66 483.03 L740.99 485.03 L742.36 486.99 L743.78 488.92 L745.25 490.82 L746.77 492.67 L748.33 494.49 L749.95 496.26 L751.62 497.97 L753.34 499.64 L755.11 501.26 L756.94 502.81 L758.81 504.30 L760.74 505.73 L762.70 507.10 L764.71 508.41 L766.76 509.65 L768.85 510.83 L770.97 511.94 L773.13 512.99 L775.32 513.97 L777.53 514.88 L779.77 515.72 L782.04 516.50 L784.33 517.21 L786.64 517.85 L788.97 518.42 L791.31 518.92 L793.67 519.35 L796.04 519.71 L798.42 519.99 L800.81 520.20 L803.20 520.34 L805.59 520.40 L807.99 520.39 L810.38 520.30 L812.78 520.13 L815.16 519.88 L817.53 519.56 L819.90 519.15 L822.24 518.67 L824.57 518.11 L826.88 517.46 L829.16 516.73 L831.42 515.92 L833.65 515.04 L835.84 514.07 L838.00 513.04 L840.13 511.94 L842.22 510.77 L844.28 509.53 L846.30 508.24 L848.28 506.90 L850.22 505.49 L852.13 504.04 L853.99 502.54 L855.82 500.99 L857.61 499.40 L859.36 497.76 L861.08 496.08 L862.75 494.36 L864.38 492.61 L865.97 490.82 L867.52 488.99 L869.03 487.13 L870.49 485.23 L871.92 483.30 L873.30 481.34 L874.63 479.35 L875.93 477.34 L877.17 475.29 L878.37 473.21 L879.53 471.11 L880.63 468.99 L881.69 466.84 L882.71 464.67 L883.67 462.47 L884.59 460.26 L885.46 458.03 L886.28 455.78 L887.06 453.51 L887.78 451.22 L888.46 448.92 L889.08 446.61 L889.66 444.28 L890.19 441.95 L890.67 439.60 L891.10 437.24 L891.48 434.88 L891.81 432.50 L892.10 430.12 L892.33 427.74 L892.52 425.35 L892.65 422.96 L892.74 420.56 L892.78 418.16 L892.77 415.77 L892.71 413.37 L892.60 410.98 L892.45 408.59 L892.24 406.20 L891.99 403.81 L891.70 401.44 L891.35 399.07 L890.96 396.70 L890.52 394.34 L890.04 392.00 L889.51 389.66 L888.94 387.33 L888.32 385.02 L887.65 382.71 L886.95 380.43 L886.19 378.15 L885.40 375.89 L884.55 373.65 L883.67 371.42 L882.74 369.21 L881.77 367.02 L880.75 364.85 L879.69 362.70 L878.58 360.57 L877.44 358.47 L876.24 356.39 L875.01 354.34 L873.73 352.31 L872.41 350.31 L871.05 348.34 L869.64 346.40 L868.20 344.48 L866.72 342.60 L865.20 340.75 L863.64 338.92 L862.05 337.13 L860.43 335.37 L858.77 333.64 L857.08 331.94 L855.36 330.27 L853.62 328.62 L851.84 327.01 L850.04 325.43 L848.22 323.88 L846.36 322.36 L844.49 320.87 L842.59 319.40 L840.67 317.97 L838.73 316.56 L836.77 315.18 L834.79 313.83 L832.80 312.51 L830.78 311.21 L828.75 309.94 L826.70 308.69 L824.64 307.48 L822.56 306.28 L820.47 305.11Z" fill="none" stroke="#0072BD" stroke-width="2.7" stroke-linejoin="round" stroke-linecap="butt"/>
<path d="M837.18 301.37 L839.78 300.78 L842.37 300.11 L844.93 299.36 L847.47 298.54 L849.98 297.65 L852.47 296.67 L854.92 295.62 L857.34 294.49 L859.72 293.29 L862.06 292.02 L864.36 290.66 L866.62 289.24 L868.83 287.74 L870.99 286.18 L873.10 284.55 L875.16 282.85 L877.16 281.08 L879.11 279.26 L881.00 277.37 L882.83 275.43 L884.60 273.44 L886.31 271.39 L887.96 269.29 L889.55 267.15 L891.07 264.96 L892.54 262.72 L893.94 260.45 L895.27 258.14 L896.54 255.79 L897.75 253.42 L898.90 251.01 L899.98 248.57 L901.00 246.10 L901.96 243.61 L902.85 241.10 L903.69 238.56 L904.46 236.00 L905.16 233.43 L905.81 230.84 L906.40 228.24 L906.92 225.62 L907.39 222.99 L907.79 220.36 L908.13 217.71 L908.42 215.06 L908.64 212.40 L908.80 209.73 L908.90 207.07 L908.95 204.40 L908.93 201.73 L908.85 199.06 L908.71 196.40 L908.52 193.74 L908.26 191.08 L907.94 188.43 L907.56 185.79 L907.12 183.16 L906.62 180.54 L906.06 177.93 L905.44 175.33 L904.76 172.75 L904.01 170.19 L903.21 167.64 L902.34 165.12 L901.41 162.62 L900.42 160.14 L899.36 157.69 L898.24 155.27 L897.06 152.88 L895.82 150.51 L894.51 148.19 L893.15 145.89 L891.72 143.64 L890.24 141.42 L888.71 139.23 L887.12 137.09 L885.48 134.98 L883.79 132.92 L882.05 130.90 L880.26 128.92 L878.42 126.98 L876.55 125.08 L874.62 123.23 L872.66 121.42 L870.66 119.66 L868.61 117.94 L866.53 116.27 L864.42 114.65 L862.26 113.07 L860.08 111.54 L857.86 110.06 L855.61 108.62 L853.33 107.24 L851.02 105.90 L848.68 104.62 L846.31 103.38 L843.92 102.20 L841.50 101.07 L839.06 99.99 L836.60 98.96 L834.11 97.99 L831.61 97.07 L829.08 96.20 L826.54 95.39 L823.98 94.64 L821.40 93.95 L818.81 93.31 L816.21 92.73 L813.59 92.21 L810.96 91.74 L808.32 91.34 L805.68 91.00 L803.02 90.73 L800.36 90.51 L797.70 90.36 L795.03 90.27 L792.36 90.25 L789.70 90.29 L787.03 90.40 L784.37 90.56 L781.71 90.79 L779.05 91.09 L776.41 91.44 L773.77 91.86 L771.15 92.35 L768.54 92.89 L765.94 93.50 L763.36 94.17 L760.79 94.91 L758.24 95.70 L755.72 96.56 L753.21 97.48 L750.73 98.47 L748.28 99.51 L745.85 100.62 L743.45 101.78 L741.07 103.01 L738.73 104.29 L736.42 105.62 L734.14 107.01 L731.90 108.45 L729.68 109.94 L727.51 111.49 L725.37 113.08 L723.27 114.73 L721.20 116.42 L719.18 118.15 L717.19 119.94 L715.25 121.77 L713.35 123.64 L711.49 125.55 L709.67 127.51 L707.90 129.51 L706.18 131.54 L704.50 133.62 L702.87 135.73 L701.29 137.88 L699.76 140.07 L698.28 142.29 L696.85 144.54 L695.48 146.83 L694.16 149.15 L692.90 151.50 L691.69 153.88 L690.54 156.29 L689.45 158.73 L688.42 161.19 L687.46 163.68 L686.55 166.19 L685.71 168.72 L684.94 171.27 L684.23 173.85 L683.58 176.44 L683.01 179.04 L682.51 181.66 L682.07 184.30 L681.71 186.94 L681.41 189.59 L681.18 192.25 L681.02 194.91 L680.92 197.58 L680.89 200.25 L680.92 202.92 L681.01 205.59 L681.17 208.25 L681.39 210.91 L681.67 213.56 L682.01 216.21 L682.42 218.85 L682.88 221.48 L683.40 224.09 L683.98 226.70 L684.62 229.29 L685.31 231.87 L686.06 234.43 L686.87 236.97 L687.73 239.50 L688.65 242.00 L689.62 244.49 L690.65 246.95 L691.74 249.39 L692.87 251.80 L694.07 254.19 L695.31 256.55 L696.61 258.88 L697.96 261.18 L699.37 263.45 L700.82 265.69 L702.33 267.89 L703.89 270.05 L705.50 272.18 L707.17 274.27 L708.88 276.31 L710.65 278.31 L712.46 280.27 L714.32 282.18 L716.24 284.04 L718.20 285.85 L720.21 287.61 L722.26 289.31 L724.36 290.95 L726.51 292.54 L728.70 294.07 L730.93 295.53 L733.20 296.93 L735.52 298.26 L737.87 299.52 L740.25 300.72 L742.68 301.84 L745.13 302.88 L747.62 303.86 L750.13 304.76 L752.67 305.58 L755.23 306.32 L757.81 306.99 L760.42 307.57 L763.04 308.08 L765.67 308.51 L768.32 308.86" fill="none" stroke="#D95319" stroke-width="2.7" stroke-linejoin="round" stroke-dasharray="9.600 8.876"/>
<path d="M768.32 308.86 L765.76 309.58 L763.24 310.39 L760.73 311.27 L758.26 312.22 L755.81 313.24 L753.40 314.34 L751.01 315.51 L748.67 316.74 L746.35 318.04 L744.08 319.41 L741.85 320.84 L739.65 322.33 L737.50 323.88 L735.40 325.49 L733.33 327.16 L731.32 328.89 L729.35 330.66 L727.43 332.49 L725.56 334.37 L723.74 336.30 L721.97 338.28 L720.25 340.30 L718.59 342.37 L716.98 344.47 L715.42 346.62 L713.93 348.81 L712.49 351.04 L711.11 353.31 L709.79 355.61 L708.52 357.94 L707.32 360.31 L706.19 362.70 L705.11 365.13 L704.10 367.58 L703.16 370.06 L702.28 372.56 L701.47 375.09 L700.73 377.64 L700.06 380.20 L699.45 382.78 L698.91 385.38 L698.44 387.99 L698.03 390.61 L697.68 393.24 L697.40 395.88 L697.18 398.52 L697.03 401.17 L696.94 403.82 L696.91 406.48 L696.95 409.13 L697.04 411.78 L697.19 414.43 L697.41 417.07 L697.68 419.71 L698.01 422.34 L698.40 424.96 L698.85 427.58 L699.36 430.18 L699.93 432.77 L700.55 435.35 L701.23 437.92 L701.96 440.47 L702.75 443.00 L703.60 445.51 L704.50 448.01 L705.46 450.48 L706.48 452.93 L707.55 455.36 L708.67 457.76 L709.85 460.13 L711.09 462.48 L712.37 464.80 L713.72 467.09 L715.12 469.34 L716.57 471.56 L718.08 473.74 L719.64 475.89 L721.25 478.00 L722.92 480.06 L724.63 482.08 L726.40 484.06 L728.22 485.99 L730.08 487.88 L731.99 489.72 L733.95 491.51 L735.95 493.26 L737.98 494.95 L740.06 496.60 L742.18 498.20 L744.33 499.75 L746.52 501.25 L748.74 502.70 L751.00 504.09 L753.29 505.44 L755.60 506.73 L757.95 507.97 L760.32 509.15 L762.72 510.29 L765.14 511.37 L767.59 512.39 L770.06 513.36 L772.55 514.27 L775.06 515.13 L777.59 515.94 L780.13 516.68 L782.69 517.37 L785.27 518.00 L787.86 518.58 L790.46 519.10 L793.07 519.55 L795.70 519.95 L798.33 520.29 L800.96 520.57 L803.61 520.79 L806.26 520.94 L808.91 521.04 L811.56 521.07 L814.21 521.04 L816.86 520.95 L819.51 520.79 L822.15 520.58 L824.79 520.29 L827.42 519.94 L830.04 519.53 L832.65 519.06 L835.25 518.51 L837.83 517.91 L840.40 517.23 L842.94 516.49 L845.47 515.69 L847.97 514.81 L850.45 513.87 L852.91 512.86 L855.33 511.79 L857.73 510.64 L860.09 509.44 L862.42 508.17 L864.72 506.84 L866.98 505.46 L869.21 504.03 L871.41 502.54 L873.57 501.01 L875.71 499.43 L877.80 497.81 L879.87 496.14 L881.90 494.44 L883.90 492.70 L885.87 490.92 L887.81 489.11 L889.72 487.27 L891.60 485.40 L893.45 483.50 L895.27 481.57 L897.05 479.60 L898.80 477.61 L900.51 475.58 L902.17 473.51 L903.79 471.41 L905.37 469.28 L906.89 467.10 L908.36 464.90 L909.77 462.65 L911.12 460.37 L912.40 458.05 L913.62 455.69 L914.78 453.30 L915.88 450.89 L916.90 448.44 L917.87 445.97 L918.76 443.47 L919.59 440.95 L920.35 438.41 L921.05 435.85 L921.67 433.28 L922.23 430.68 L922.71 428.07 L923.13 425.45 L923.48 422.82 L923.75 420.19 L923.96 417.54 L924.09 414.89 L924.15 412.24 L924.14 409.59 L924.05 406.94 L923.89 404.29 L923.66 401.65 L923.36 399.01 L923.00 396.38 L922.56 393.77 L922.06 391.16 L921.49 388.57 L920.85 386.00 L920.16 383.44 L919.40 380.89 L918.58 378.37 L917.71 375.87 L916.77 373.39 L915.78 370.93 L914.73 368.49 L913.63 366.08 L912.47 363.69 L911.27 361.33 L910.01 358.99 L908.70 356.69 L907.34 354.41 L905.93 352.16 L904.47 349.94 L902.97 347.76 L901.42 345.61 L899.82 343.49 L898.18 341.40 L896.50 339.35 L894.77 337.34 L893.00 335.36 L891.19 333.42 L889.34 331.52 L887.45 329.66 L885.52 327.84 L883.55 326.07 L881.54 324.33 L879.50 322.65 L877.41 321.00 L875.29 319.41 L873.14 317.86 L870.95 316.36 L868.73 314.91 L866.47 313.52 L864.18 312.18 L861.86 310.89 L859.51 309.66 L857.14 308.49 L854.73 307.37 L852.29 306.32 L849.83 305.33 L847.35 304.41 L844.84 303.55 L842.31 302.75 L839.75 302.03 L837.18 301.37 L837.18 301.37" fill="none" stroke="#D95319" stroke-width="2.7" stroke-linejoin="round" stroke-dasharray="9.600 8.764"/>
<text x="767.90" y="608.6" font-family="&quot;Liberation Serif&quot;, serif" font-size="46" letter-spacing="0.8" fill="#000">(b)</text>
<rect x="73.40" y="0.6" width="369.30" height="43" fill="#fff" stroke="#454545" stroke-width="1"/><line x1="82.00" y1="21.3" x2="128.80" y2="21.3" stroke="#0072BD" stroke-width="2.7"/><line x1="267.20" y1="21.3" x2="314.40" y2="21.3" stroke="#D95319" stroke-width="2.7" stroke-dasharray="10 8.6"/><g font-family="&quot;Liberation Sans&quot;, sans-serif" font-size="27.78" fill="#000"><text transform="translate(133.20 32.5) scale(1 1.045)">Numerical</text><text transform="translate(319.20 32.5) scale(1 1.045)">Analytical</text></g>
<rect x="617.80" y="0.6" width="369.30" height="43" fill="#fff" stroke="#454545" stroke-width="1"/><line x1="626.40" y1="21.3" x2="673.20" y2="21.3" stroke="#0072BD" stroke-width="2.7"/><line x1="811.60" y1="21.3" x2="858.80" y2="21.3" stroke="#D95319" stroke-width="2.7" stroke-dasharray="10 8.6"/><g font-family="&quot;Liberation Sans&quot;, sans-serif" font-size="27.78" fill="#000"><text transform="translate(677.60 32.5) scale(1 1.045)">Numerical</text><text transform="translate(863.60 32.5) scale(1 1.045)">Analytical</text></g>
</svg>
</body></html>
